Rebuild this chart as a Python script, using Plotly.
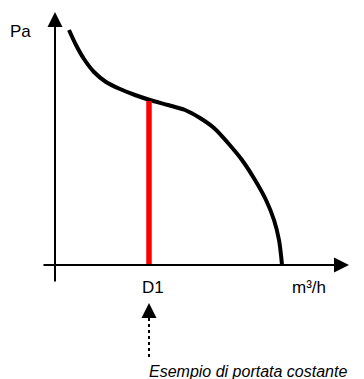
import plotly.graph_objects as go

# fan curve (portata m3/h vs pressione Pa), units
portata = [14, 21, 29, 39, 51, 65, 80, 95, 113, 130, 145, 159, 173, 187, 200, 211, 219, 224, 226, 227]
pressione = [235, 220, 206, 193, 183, 176, 170, 165, 160, 155, 147, 137, 122, 105, 85, 65, 45, 25, 10, 0]

# constant flow point D1
d1_portata = 94
d1_pressione = 164

# axis extents
x_axis = [-13, 294]
y_axis = [-18, 253]

# dotted pointer below D1
freccia_y = [-92, -53]
freccia_punta = -38

fig = go.Figure()

# curve
fig.add_trace(go.Scatter(x=portata, y=pressione, mode='lines',
                         line=dict(color='black', width=4, shape='spline', smoothing=0.8),
                         hoverinfo='skip'))

# red D1 line
fig.add_trace(go.Scatter(x=[d1_portata, d1_portata], y=[0, d1_pressione], mode='lines',
                         line=dict(color='#ff0000', width=5.5), hoverinfo='skip'))

# dotted line of the pointer
fig.add_trace(go.Scatter(x=[d1_portata, d1_portata], y=freccia_y, mode='lines',
                         line=dict(color='black', width=2, dash='dot'), hoverinfo='skip'))

## ARROWS (axes + pointer head)
arrow = dict(xref='x', yref='y', axref='x', ayref='y', text='', showarrow=True,
             arrowhead=2, arrowsize=1.5, arrowwidth=2, arrowcolor='black')
fig.add_annotation(x=x_axis[1], y=0, ax=x_axis[0], ay=0, **arrow)
fig.add_annotation(x=0, y=y_axis[1], ax=0, ay=y_axis[0], **arrow)
fig.add_annotation(x=d1_portata, y=freccia_punta, ax=d1_portata, ay=freccia_y[1],
                   **dict(arrow, arrowwidth=1, arrowsize=3))

## LABELS
font = dict(family='Arial, Liberation Sans, sans-serif', size=17, color='black')
fig.add_annotation(x=-35, y=234, text='Pa', showarrow=False, font=font)
fig.add_annotation(x=98, y=-22, text='D1', showarrow=False, font=font)
fig.add_annotation(x=254, y=-22, text='m³/h', showarrow=False, font=font)
fig.add_annotation(x=92, y=-106, text='<i>Esempio di portata costante</i>', showarrow=False,
                   xanchor='left',
                   font=dict(family='Arial, Liberation Sans, sans-serif', size=16, color='black'))

fig.update_layout(width=364, height=379, margin=dict(l=0, r=0, t=0, b=0),
                  paper_bgcolor='white', plot_bgcolor='white', showlegend=False,
                  xaxis=dict(range=[-55, 309], visible=False, fixedrange=True),
                  yaxis=dict(range=[-114, 265], visible=False, fixedrange=True))

# page body has a default 8px margin, drop it so the chart sits at the top-left
fig.write_html("out.html", config={'displayModeBar': False},
               post_script="document.body.style.margin='0px';")
